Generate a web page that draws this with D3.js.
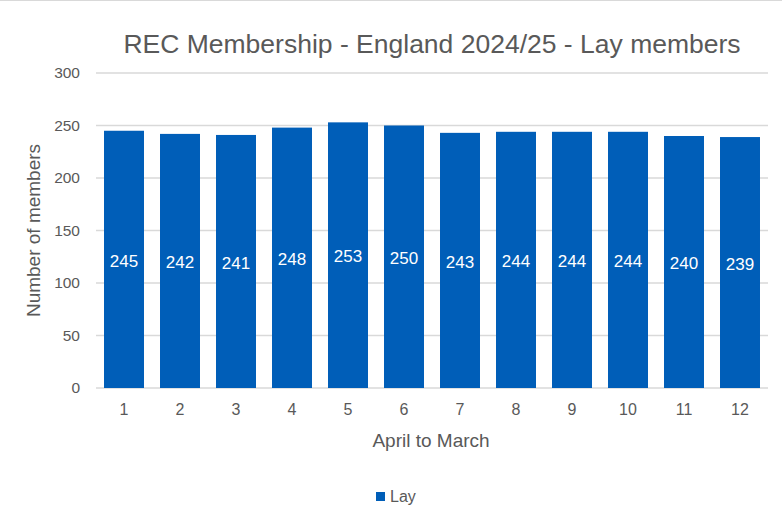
<!DOCTYPE html>
<html>
<head>
<meta charset="utf-8">
<script src="https://cdn.jsdelivr.net/npm/d3@7"></script>
<style>
  body { margin: 0; background: #fff; }
  text { font-family: "Liberation Sans", Arial, sans-serif; fill: #595959; }
</style>
</head>
<body>
<svg id="chart"></svg>
<script>
// month index (April to March) and lay member counts
let months = ["1","2","3","4","5","6","7","8","9","10","11","12"];
let layMembers = [245, 242, 241, 248, 253, 250, 243, 244, 244, 244, 240, 239];
let yTicks = [0, 50, 100, 150, 200, 250, 300];

let svg = d3.select("#chart")
    .attr("width", 784)
    .attr("height", 523);

// top edge of chart frame
svg.append("line")
    .attr("x1", 0).attr("x2", 782)
    .attr("y1", 0.5).attr("y2", 0.5)
    .attr("stroke", "#d9d9d9");

let margin = {top: 73, right: 16, bottom: 135, left: 96},
    width = 784 - margin.left - margin.right,
    height = 523 - margin.top - margin.bottom,
    g = svg.append("g").attr("transform", "translate(" + margin.left + "," + margin.top + ")");

let x = d3.scaleBand()
    .domain(months)
    .range([0, width])
    .paddingInner(0.286)
    .paddingOuter(0.143);

let y = d3.scaleLinear()
    .domain([0, 300])
    .range([height, 0]);

// gridlines
g.append("g")
    .selectAll("line")
    .data(yTicks)
    .enter().append("line")
    .attr("x1", 0).attr("x2", width)
    .attr("y1", d => y(d)).attr("y2", d => y(d))
    .attr("stroke", "#d9d9d9")
    .attr("stroke-width", 1.5);

// y axis labels
let yAxis = g.append("g")
    .call(d3.axisLeft(y).tickValues(yTicks).tickSize(0).tickPadding(16));
yAxis.select(".domain").remove();
yAxis.selectAll("text")
    .style("font-size", "15.5px")
    .attr("fill", "#595959");

// bars
g.selectAll(".bar")
    .data(layMembers)
    .enter().append("rect")
    .attr("class", "bar")
    .attr("x", (d, i) => x(months[i]))
    .attr("y", d => y(d))
    .attr("width", x.bandwidth())
    .attr("height", d => height - y(d))
    .attr("fill", "#005EB8");

// data labels
g.selectAll(".lbl")
    .data(layMembers)
    .enter().append("text")
    .attr("class", "lbl")
    .attr("x", (d, i) => x(months[i]) + x.bandwidth() / 2)
    .attr("y", d => (y(d) + height) / 2)
    .attr("dy", "0.42em")
    .attr("text-anchor", "middle")
    .style("fill", "#fff")
    .style("font-size", "17px")
    .text(d => d);

// x axis labels
let xAxis = g.append("g")
    .attr("transform", "translate(0," + height + ")")
    .call(d3.axisBottom(x).tickSize(0).tickPadding(16));
xAxis.select(".domain").remove();
xAxis.selectAll("text")
    .style("font-size", "16px")
    .attr("fill", "#595959");

// axis titles
g.append("text")
    .attr("x", width / 2 - 1)
    .attr("y", height + 59)
    .attr("text-anchor", "middle")
    .style("font-size", "19px")
    .text("April to March");

svg.append("text")
    .attr("transform", "translate(40," + (margin.top + height / 2) + ") rotate(-90)")
    .attr("text-anchor", "middle")
    .style("font-size", "19px")
    .text("Number of members");

// title
svg.append("text")
    .attr("x", margin.left + width / 2)
    .attr("y", 53)
    .attr("text-anchor", "middle")
    .style("font-size", "26.5px")
    .text("REC Membership - England 2024/25 - Lay members");

// legend
let legend = svg.append("g").attr("transform", "translate(376,492)");
legend.append("rect")
    .attr("width", 9).attr("height", 9)
    .attr("fill", "#005EB8");
legend.append("text")
    .attr("x", 14).attr("y", 4.5)
    .attr("dy", "0.36em")
    .style("font-size", "16px")
    .text("Lay");
</script>
</body>
</html>
